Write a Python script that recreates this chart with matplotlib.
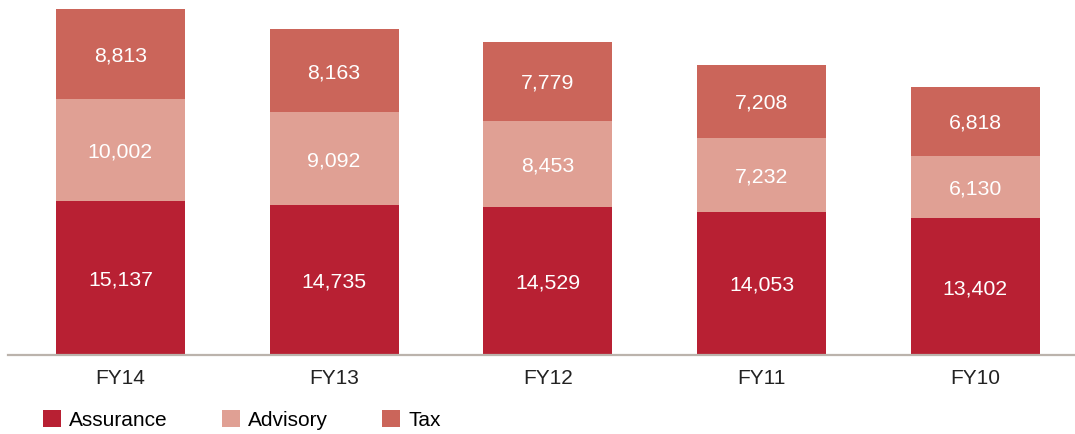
import matplotlib.pyplot as plt
import numpy as np

years = ['FY14', 'FY13', 'FY12', 'FY11', 'FY10']
assurance = [15137, 14735, 14529, 14053, 13402]
advisory = [10002, 9092, 8453, 7232, 6130]
tax = [8813, 8163, 7779, 7208, 6818]
names = ['Assurance', 'Advisory', 'Tax']
colors = ['#B82033', '#E0A094', '#CB655A']

plt.rcParams['font.family'] = ['Liberation Sans', 'DejaVu Sans']

fig = plt.figure(figsize=(10.75, 4.34), dpi=100)
ax = fig.add_axes([8/1075, 79/434, 1067/1075, 355/434])

x = np.arange(len(years))
bottom = np.zeros(len(years))
handles = []
for vals, name, c in zip([assurance, advisory, tax], names, colors):
    vals = np.array(vals)
    b = ax.bar(x, vals, 0.6035, bottom=bottom, color=c, label=name)
    handles.append(b)
    for xi, v, bo in zip(x, vals, bottom):
        ax.text(xi, bo + v/2, f'{v:,}', ha='center', va='center_baseline',
                color='white', fontsize=15.3)
    bottom += vals

ax.set_xlim(-0.526, 4.466)
ax.set_ylim(0, 34840)
ax.set_yticks([])
ax.set_xticks(x)
ax.set_xticklabels(years, fontsize=15, color='#222222')
ax.tick_params(axis='x', length=0, pad=10)
for s in ['top', 'left', 'right']:
    ax.spines[s].set_visible(False)
ax.spines['bottom'].set_color('#BBB3AC')
ax.spines['bottom'].set_linewidth(1.6)

fig.legend(handles=handles, labels=names, loc='center left',
           bbox_to_anchor=(43/1075, 1-420/434), ncol=3, frameon=False,
           fontsize=15, handlelength=0.87, handleheight=0.87,
           handletextpad=0.38, columnspacing=2.6, borderpad=0,
           borderaxespad=0)

fig.savefig('out.png', dpi=100)
